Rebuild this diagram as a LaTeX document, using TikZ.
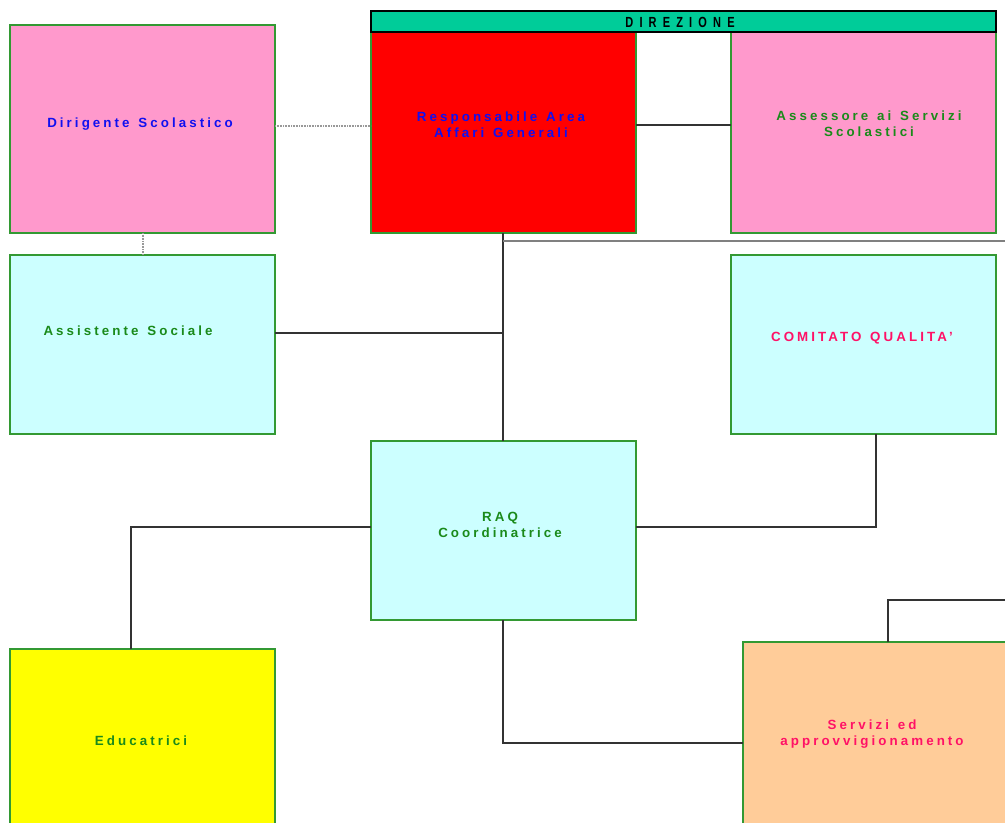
\documentclass[tikz,border=0pt]{standalone}
\usepackage{fontspec}
\setmainfont{Liberation Sans}[LetterSpace=23,WordSpace=1.3]
\newfontfamily\condfont{Liberation Sans}[FakeStretch=0.75,LetterSpace=42]
\definecolor{pinkbox}{HTML}{FF99CC}
\definecolor{cyanbox}{HTML}{CCFFFF}
\definecolor{peachbox}{HTML}{FFCC99}
\definecolor{dirbar}{HTML}{00CC99}
\definecolor{boxline}{HTML}{339933}
\definecolor{txtblue}{HTML}{1010F0}
\definecolor{txtgreen}{HTML}{1A8A1A}
\definecolor{txtpink}{HTML}{FF1166}
\definecolor{yelbox}{HTML}{FFFF00}
\begin{document}
\begin{tikzpicture}[x=0.75pt,y=-0.75pt,
  boxst/.style={draw=boxline,line width=1pt},
  lbl/.style={font=\fontsize{10}{11.8}\selectfont\bfseries,align=center,inner sep=0pt},
  conn/.style={draw=black!80,line width=0.8pt},
  dots/.style={draw=gray!80,dash pattern=on 0.6pt off 0.6pt,line width=0.8pt}]
\useasboundingbox (0,0) rectangle (1005,823);
\begin{scope}
\clip (0,0) rectangle (1005,823);
% boxes
\filldraw[boxst,fill=pinkbox] (10,25) rectangle (275,233);
\coordinate (dirR) at (275,126);
\coordinate (dirB) at (143,233);
\filldraw[boxst,fill=red] (371,32) rectangle (636,233);
\filldraw[boxst,fill=pinkbox] (731,32) rectangle (996,233);
\filldraw[draw=black,line width=0.9pt,fill=dirbar] (371,11) rectangle (996,32);
\filldraw[boxst,fill=cyanbox] (10,255) rectangle (275,434);
\filldraw[boxst,fill=cyanbox] (731,255) rectangle (996,434);
\filldraw[boxst,fill=cyanbox] (371,441) rectangle (636,620);
\filldraw[boxst,fill=yelbox] (10,649) rectangle (275,830);
\filldraw[boxst,fill=peachbox] (743,642) rectangle (1012,830);
% named anchors
\coordinate (respL) at (371,126);
\coordinate (respR) at (636,125);
\coordinate (respB) at (503,233);
\coordinate (assL) at (731,125);
\coordinate (asocT) at (143,255);
\coordinate (asocR) at (275,333);
\coordinate (raqT) at (503,441);
\coordinate (raqL) at (371,527);
\coordinate (raqR) at (636,527);
\coordinate (raqB) at (503,620);
\coordinate (comB) at (876,434);
\coordinate (eduT) at (131,649);
\coordinate (serL) at (743,743);
\coordinate (serT) at (888,642);
\coordinate (mainJ) at (503,333);
\coordinate (topJ) at (503,241);
\coordinate (rightA) at (1010,241);
\coordinate (rightB) at (1010,600);
% connectors
\draw[dots] (dirR) -- (respL);
\draw[dots] (dirB) -- (asocT);
\draw[conn] (respR) -- (assL);
\draw[conn] (respB) -- (raqT);
\draw[draw=gray,line width=0.8pt] (topJ) -- (rightA);
\draw[conn] (asocR) -- (mainJ);
\draw[conn] (raqL) -| (eduT);
\draw[conn] (raqR) -| (comB);
\draw[conn] (raqB) |- (serL);
\draw[conn] (serT) |- (rightB);
% labels
\node[lbl,text=black,font=\fontsize{11}{11}\selectfont\bfseries\condfont] (tdir) at (680,22) {DIREZIONE};
\node[lbl,text=txtblue] (tdirig) at (140,124) {Dirigente Scolastico};
\node[lbl,text=txtblue] (tresp) at (501,124.5) {Responsabile Area\\Affari Generali};
\node[lbl,text=txtgreen] (tass) at (869,124) {Assessore ai Servizi\\Scolastici};
\node[lbl,text=txtgreen] (tasoc) at (128,331) {Assistente Sociale};
\node[lbl,text=txtpink] (tcom) at (862,338) {COMITATO QUALITA'};
\node[lbl,text=txtgreen] (traq) at (500,525) {RAQ\\Coordinatrice};
\node[lbl,text=txtgreen] (tedu) at (141,741) {Educatrici};
\node[lbl,text=txtpink] (tser) at (872,734) {Servizi ed\\approvvigionamento};
\end{scope}
\end{tikzpicture}
\end{document}
